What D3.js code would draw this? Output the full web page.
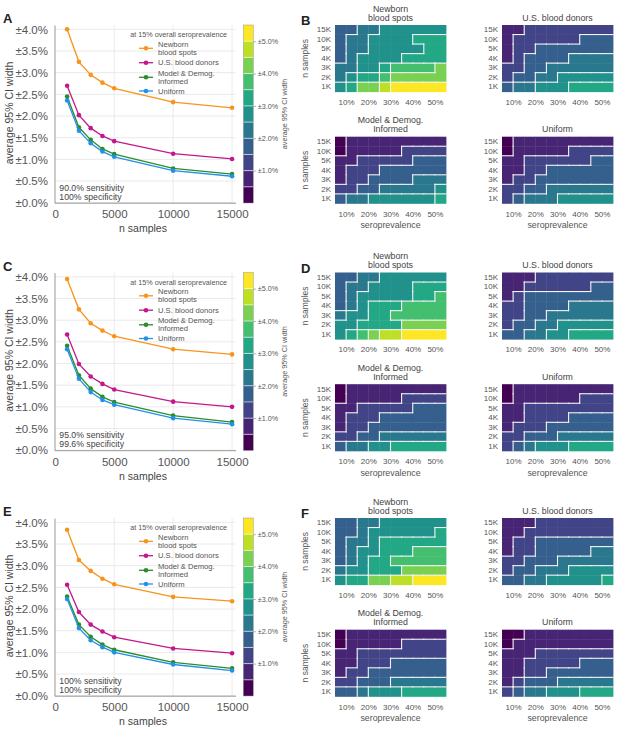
<!DOCTYPE html>
<html>
<head>
<meta charset="utf-8">
<script src="https://cdn.jsdelivr.net/npm/d3@7/dist/d3.min.js"></script>
<style>
  body { margin: 0; background: #fff; }
  svg { font-family: "Liberation Sans", Arial, sans-serif; }
</style>
</head>
<body>
<div id="chart"></div>
<script>
// x values of the line charts
var nSamples = [1000, 2000, 3000, 4000, 5000, 10000, 15000];

// average 95% CI width (%) at 15% overall seroprevalence
var ciA_newborn = [4.00, 3.25, 2.95, 2.77, 2.64, 2.32, 2.19];
var ciA_donors  = [2.70, 2.02, 1.72, 1.54, 1.42, 1.13, 1.01];
var ciA_model   = [2.45, 1.74, 1.45, 1.24, 1.12, 0.79, 0.66];
var ciA_uniform = [2.36, 1.66, 1.37, 1.18, 1.06, 0.74, 0.61];

var ciC_newborn = [3.95, 3.25, 2.93, 2.76, 2.63, 2.33, 2.21];
var ciC_donors  = [2.67, 1.99, 1.70, 1.53, 1.40, 1.12, 1.00];
var ciC_model   = [2.41, 1.73, 1.42, 1.23, 1.11, 0.80, 0.65];
var ciC_uniform = [2.33, 1.65, 1.34, 1.16, 1.05, 0.74, 0.60];

var ciE_newborn = [3.83, 3.13, 2.88, 2.70, 2.57, 2.28, 2.18];
var ciE_donors  = [2.56, 1.93, 1.64, 1.48, 1.35, 1.09, 0.98];
var ciE_model   = [2.29, 1.64, 1.36, 1.18, 1.06, 0.77, 0.63];
var ciE_uniform = [2.23, 1.56, 1.28, 1.12, 1.00, 0.72, 0.58];

var seriesNames = [["Newborn", "blood spots"], ["U.S. blood donors"], ["Model & Demog.", "Informed"], ["Uniform"]];
var seriesColors = ["#f7941d", "#c2188b", "#2a8d2a", "#2191ea"];
var yTicks = [0, 0.5, 1, 1.5, 2, 2.5, 3, 3.5, 4];
var xTicks = [0, 5000, 10000, 15000];
var cbTicks = [1, 2, 3, 4, 5];
var cbBreaks = [0.5, 1, 1.5, 2, 2.5, 3, 3.5, 4, 4.5, 5];

// heatmaps: rows 15K..1K, columns = seroprevalence bins starting at these %
var seroBins = [5, 10, 15, 20, 25, 30, 35, 40, 45, 50];
var rowLabels = ["15K", "10K", "5K", "4K", "3K", "2K", "1K"];
var seroTicks = [10, 20, 30, 40, 50];

var heatB_newborn = [
  [1.8,1.8,2.3,2.3,2.8,2.8,2.8,2.8,2.8,2.8],
  [1.8,2.3,2.3,2.8,2.8,2.8,2.8,3.3,3.3,3.3],
  [1.8,2.3,2.3,2.8,2.8,2.8,2.8,2.8,3.3,3.3],
  [1.8,2.3,2.8,2.8,2.8,2.8,3.3,3.3,3.3,3.3],
  [2.3,2.3,2.8,2.8,3.3,3.8,3.8,3.8,3.8,4.3],
  [2.3,2.8,3.3,3.3,3.8,4.3,4.3,4.3,4.3,4.3],
  [2.8,3.3,4.3,4.3,4.8,5.3,5.3,5.3,5.3,5.3]];
var heatB_donors = [
  [0.8,0.8,1.3,1.3,1.3,1.3,1.3,1.3,1.3,1.3],
  [0.8,1.3,1.3,1.3,1.3,1.3,1.3,1.8,1.8,1.8],
  [0.8,1.3,1.3,1.8,1.8,1.8,1.8,1.8,1.8,1.8],
  [0.8,1.3,1.8,1.8,1.8,1.8,2.3,2.3,2.3,2.3],
  [1.3,1.3,1.8,1.8,2.3,2.3,2.3,2.3,2.3,2.3],
  [1.3,1.8,1.8,2.3,2.3,2.8,2.8,2.8,2.8,2.8],
  [1.8,2.3,2.3,2.8,2.8,2.8,3.3,3.3,3.3,3.3]];
var heatB_model = [
  [0.3,0.8,0.8,0.8,0.8,0.8,0.8,0.8,0.8,0.8],
  [0.3,0.8,0.8,0.8,0.8,0.8,1.3,1.3,1.3,1.3],
  [0.8,0.8,1.3,1.3,1.3,1.3,1.3,1.8,1.8,1.8],
  [0.8,1.3,1.3,1.3,1.8,1.8,1.8,1.8,1.8,1.8],
  [0.8,1.3,1.3,1.8,1.8,1.8,1.8,2.3,2.3,2.3],
  [1.3,1.3,1.8,1.8,2.3,2.3,2.3,2.3,2.3,2.8],
  [1.8,2.3,2.3,2.8,2.8,2.8,2.8,2.8,2.8,3.3]];
var heatB_uniform = [
  [0.3,0.8,0.8,0.8,0.8,0.8,0.8,0.8,0.8,0.8],
  [0.3,0.8,0.8,0.8,0.8,0.8,1.3,1.3,1.3,1.3],
  [0.8,0.8,1.3,1.3,1.3,1.3,1.3,1.3,1.8,1.8],
  [0.8,0.8,1.3,1.3,1.8,1.8,1.8,1.8,1.8,1.8],
  [0.8,1.3,1.3,1.8,1.8,1.8,1.8,1.8,1.8,1.8],
  [1.3,1.3,1.8,1.8,2.3,2.3,2.3,2.3,2.3,2.3],
  [1.3,1.8,2.3,2.3,2.3,2.8,2.8,2.8,2.8,2.8]];

var heatD_newborn = [
  [1.8,1.8,2.3,2.3,2.8,2.8,2.8,2.8,2.8,2.8],
  [1.8,2.3,2.3,2.8,2.8,2.8,2.8,3.3,3.3,3.3],
  [1.8,2.3,2.8,2.8,2.8,2.8,2.8,3.3,3.3,3.8],
  [1.8,2.3,2.8,3.3,3.3,3.3,3.8,3.8,3.8,3.8],
  [2.3,2.8,2.8,3.3,3.3,3.8,3.8,3.8,3.8,3.8],
  [2.8,2.8,3.3,3.3,3.3,3.3,4.3,4.3,4.3,4.3],
  [2.8,3.3,3.8,4.3,4.8,4.8,5.3,5.3,5.3,5.3]];
var heatD_donors = [
  [0.8,0.8,0.8,1.3,1.3,1.3,1.3,1.3,1.3,1.3],
  [0.8,0.8,1.3,1.3,1.3,1.3,1.3,1.3,1.8,1.8],
  [0.8,1.3,1.8,1.8,1.8,1.8,1.8,1.8,1.8,1.8],
  [1.3,1.3,1.8,1.8,1.8,1.8,2.3,2.3,2.3,2.3],
  [1.3,1.3,1.8,1.8,2.3,2.3,2.3,2.3,2.3,2.3],
  [1.3,1.8,1.8,2.3,2.3,2.8,2.8,2.8,2.8,2.8],
  [1.8,1.8,2.3,2.3,2.8,2.8,3.3,3.3,3.3,3.3]];
var heatD_model = [
  [0.3,0.8,0.8,0.8,0.8,0.8,0.8,0.8,0.8,0.8],
  [0.3,0.8,0.8,0.8,0.8,0.8,1.3,1.3,1.3,1.3],
  [0.8,0.8,1.3,1.3,1.3,1.3,1.3,1.8,1.8,1.8],
  [0.8,1.3,1.3,1.3,1.8,1.8,1.8,1.8,1.8,1.8],
  [0.8,1.3,1.3,1.8,1.8,1.8,1.8,1.8,1.8,1.8],
  [1.3,1.3,1.8,1.8,2.3,2.3,2.3,2.3,2.3,2.3],
  [1.8,2.3,2.3,2.8,2.8,3.3,3.3,3.3,3.3,3.3]];
var heatD_uniform = [
  [0.3,0.8,0.8,0.8,0.8,0.8,0.8,0.8,0.8,0.8],
  [0.3,0.8,0.8,0.8,0.8,0.8,0.8,1.3,1.3,1.3],
  [0.8,0.8,1.3,1.3,1.3,1.3,1.3,1.3,1.3,1.3],
  [0.8,0.8,1.3,1.3,1.3,1.3,1.8,1.8,1.8,1.8],
  [0.8,1.3,1.3,1.3,1.8,1.8,1.8,1.8,1.8,1.8],
  [1.3,1.3,1.8,1.8,1.8,2.3,2.3,2.3,2.3,2.3],
  [1.3,1.8,2.3,2.8,2.8,2.8,3.3,3.3,3.3,3.3]];

var heatF_newborn = [
  [1.8,1.8,2.3,2.3,2.8,2.8,2.8,2.8,2.8,2.8],
  [1.8,1.8,2.3,2.8,2.8,2.8,2.8,2.8,2.8,3.3],
  [1.8,2.3,2.3,2.8,3.3,3.3,3.3,3.3,3.3,3.3],
  [1.8,2.3,2.8,2.8,3.3,3.3,3.3,3.8,3.8,3.8],
  [1.8,2.3,2.8,3.3,3.3,3.8,3.8,3.8,3.8,3.8],
  [2.3,2.8,2.8,3.3,3.3,3.3,4.3,4.3,4.3,4.3],
  [2.8,3.3,3.3,4.3,4.3,4.8,4.8,5.3,5.3,5.3]];
var heatF_donors = [
  [0.8,0.8,0.8,1.3,1.3,1.3,1.3,1.3,1.3,1.3],
  [0.8,0.8,1.3,1.3,1.3,1.3,1.3,1.3,1.3,1.3],
  [0.8,1.3,1.3,1.8,1.8,1.8,1.8,1.8,1.8,1.8],
  [0.8,1.3,1.3,1.8,1.8,1.8,1.8,1.8,2.3,2.3],
  [1.3,1.3,1.8,1.8,1.8,2.3,2.3,2.3,2.3,2.3],
  [1.3,1.8,1.8,2.3,2.3,2.3,2.8,2.8,2.8,2.8],
  [1.8,1.8,2.3,2.3,2.8,2.8,2.8,2.8,2.8,3.3]];
var heatF_model = [
  [0.3,0.8,0.8,0.8,0.8,0.8,0.8,0.8,0.8,0.8],
  [0.3,0.8,0.8,0.8,0.8,0.8,1.3,1.3,1.3,1.3],
  [0.8,0.8,1.3,1.3,1.3,1.3,1.3,1.3,1.3,1.3],
  [0.8,0.8,1.3,1.3,1.3,1.8,1.8,1.8,1.8,1.8],
  [0.8,1.3,1.3,1.8,1.8,1.8,1.8,1.8,1.8,1.8],
  [1.3,1.3,1.8,1.8,1.8,2.3,2.3,2.3,2.3,2.3],
  [1.8,1.8,2.3,2.8,2.8,2.8,3.3,3.3,3.3,3.3]];
var heatF_uniform = [
  [0.3,0.3,0.8,0.8,0.8,0.8,0.8,0.8,0.8,0.8],
  [0.3,0.8,0.8,0.8,0.8,0.8,0.8,0.8,0.8,0.8],
  [0.8,0.8,0.8,1.3,1.3,1.3,1.3,1.3,1.3,1.3],
  [0.8,0.8,1.3,1.3,1.3,1.3,1.3,1.8,1.8,1.8],
  [0.8,0.8,1.3,1.3,1.8,1.8,1.8,1.8,1.8,1.8],
  [0.8,1.3,1.8,1.8,1.8,2.3,2.3,2.3,2.3,2.3],
  [1.3,1.8,2.3,2.3,2.8,2.8,2.8,3.3,3.3,3.3]];

var panelLetters = [["A", "B"], ["C", "D"], ["E", "F"]];
var sensTexts = [["90.0% sensitivity", "100% specificity"], ["95.0% sensitivity", "99.6% specificity"], ["100% sensitivity", "100% specificity"]];

var width = 617, height = 731;
var panelY = [0, 247.5, 493];

var svg = d3.select("#chart").append("svg")
    .attr("width", width)
    .attr("height", height);

var bandColors = d3.range(11).map(i => d3.interpolateViridis(i / 10));
var color = d3.scaleThreshold().domain(cbBreaks).range(bandColors);
var fmtPct = d => "\u00b1" + d3.format(".1f")(d) + "%";

function drawLineChart(g, series, sens) {
    var x = d3.scaleLinear().domain([-70, 15300]).range([54.5, 235.6]);
    var y = d3.scaleLinear().domain([0, 4.1]).range([202.7, 25]);

    // grid
    g.append("g").selectAll("line").data(yTicks).enter().append("line")
        .attr("x1", x.range()[0]).attr("x2", x.range()[1])
        .attr("y1", d => y(d)).attr("y2", d => y(d))
        .attr("stroke", "#e4e4e4").attr("stroke-width", 0.8);
    g.append("g").selectAll("line").data(xTicks.slice(1)).enter().append("line")
        .attr("x1", d => x(d)).attr("x2", d => x(d))
        .attr("y1", y.range()[0]).attr("y2", y.range()[1])
        .attr("stroke", "#e4e4e4").attr("stroke-width", 0.8);

    var ya = g.append("g").attr("transform", "translate(54.5,0)")
        .call(d3.axisLeft(y).tickValues(yTicks).tickFormat(fmtPct).tickSize(0).tickPadding(6.5));
    ya.select(".domain").attr("stroke", "#999");
    ya.selectAll("text").attr("font-size", 11.5).attr("fill", "#555").attr("font-family", null);

    var xa = g.append("g").attr("transform", "translate(0," + y(0) + ")")
        .call(d3.axisBottom(x).tickValues(xTicks).tickSize(0).tickPadding(7.5).tickFormat(d3.format("d")));
    xa.select(".domain").attr("stroke", "#999");
    xa.selectAll("text").attr("font-size", 11.5).attr("fill", "#555").attr("font-family", null);

    g.append("text").attr("x", 143).attr("y", 232).attr("text-anchor", "middle")
        .attr("font-size", 10.5).attr("fill", "#444").text("n samples");
    g.append("text").attr("transform", "translate(13,113) rotate(-90)").attr("text-anchor", "middle")
        .attr("font-size", 10.5).attr("fill", "#444").text("average 95% CI width");

    var line = d3.line().x((d, i) => x(nSamples[i])).y(d => y(d));
    series.forEach(function (s, k) {
        g.append("path").attr("d", line(s)).attr("fill", "none")
            .attr("stroke", seriesColors[k]).attr("stroke-width", 1.3);
        g.append("g").selectAll("circle").data(s).enter().append("circle")
            .attr("cx", (d, i) => x(nSamples[i])).attr("cy", d => y(d)).attr("r", 2.3)
            .attr("fill", seriesColors[k]);
    });

    // legend
    g.append("text").attr("x", 227).attr("y", 37).attr("text-anchor", "end")
        .attr("font-size", 7.2).attr("fill", "#555").text("at 15% overall seroprevalence");
    var legY = [48.3, 62.7, 77.3, 91];
    seriesNames.forEach(function (name, k) {
        g.append("line").attr("x1", 139).attr("x2", 153).attr("y1", legY[k]).attr("y2", legY[k])
            .attr("stroke", seriesColors[k]).attr("stroke-width", 1.3);
        g.append("circle").attr("cx", 146).attr("cy", legY[k]).attr("r", 2.3).attr("fill", seriesColors[k]);
        name.forEach(function (t, j) {
            g.append("text").attr("x", 158)
                .attr("y", legY[k] + (j - (name.length - 1) / 2) * 8 + 2.6)
                .attr("font-size", 7.6).attr("fill", "#555").text(t);
        });
    });

    sens.forEach(function (t, j) {
        g.append("text").attr("x", 59.3).attr("y", 190.8 + j * 9)
            .attr("font-size", 8.7).attr("fill", "#444").text(t);
    });

    // colorbar
    var cb = d3.scaleLinear().domain([0, 5.5]).range([203, 25]);
    var cbx = 243.3, cbw = 10;
    var bands = [0].concat(cbBreaks);
    g.append("g").selectAll("rect").data(bands).enter().append("rect")
        .attr("x", cbx).attr("width", cbw)
        .attr("y", d => cb(d + 0.5)).attr("height", d => cb(d) - cb(d + 0.5))
        .attr("fill", d => color(d + 0.25));
    g.append("g").selectAll("line").data(cbBreaks).enter().append("line")
        .attr("x1", cbx).attr("x2", cbx + cbw)
        .attr("y1", d => cb(d)).attr("y2", d => cb(d))
        .attr("stroke", "#fff").attr("stroke-opacity", 0.75).attr("stroke-width", 0.8);
    g.append("rect").attr("x", cbx).attr("y", cb(5.5)).attr("width", cbw).attr("height", cb(0) - cb(5.5))
        .attr("fill", "none").attr("stroke", "#999").attr("stroke-width", 0.5);
    var ca = g.append("g").attr("transform", "translate(" + (cbx + cbw) + ",0)")
        .call(d3.axisRight(cb).tickValues(cbTicks).tickFormat(fmtPct).tickSize(2.5).tickPadding(2));
    ca.select(".domain").remove();
    ca.selectAll("line").attr("stroke", "#aaa");
    ca.selectAll("text").attr("font-size", 7.2).attr("fill", "#555").attr("font-family", null);
    g.append("text").attr("transform", "translate(287,114) rotate(-90)").attr("text-anchor", "middle")
        .attr("font-size", 7.2).attr("fill", "#555").text("average 95% CI width");
}

function drawHeatmap(g, x0, y0, grid, title, showY, showX) {
    var w = 111, h = 66.7;
    var xs = d3.scaleLinear().domain([5, 55]).range([x0, x0 + w]);
    var ys = d3.scaleBand().domain(rowLabels).range([y0, y0 + h]);
    var cells = [];
    grid.forEach((row, r) => row.forEach((v, c) => cells.push({ r: r, c: c, v: v })));

    g.append("g").selectAll("rect").data(cells).enter().append("rect")
        .attr("x", d => xs(seroBins[d.c]))
        .attr("y", d => ys(rowLabels[d.r]))
        .attr("width", d => xs(seroBins[d.c] + 5) - xs(seroBins[d.c]) + 0.4)
        .attr("height", ys.bandwidth() + 0.4)
        .attr("fill", d => color(d.v));

    // white borders between different levels
    var lvl = v => cbBreaks.filter(b => v >= b).length;
    var segs = [];
    cells.forEach(function (d) {
        if (d.c < 9 && lvl(grid[d.r][d.c + 1]) !== lvl(d.v)) {
            var xx = xs(seroBins[d.c] + 5);
            segs.push([xx, ys(rowLabels[d.r]), xx, ys(rowLabels[d.r]) + ys.bandwidth()]);
        }
        if (d.r < 6 && lvl(grid[d.r + 1][d.c]) !== lvl(d.v)) {
            var yy = ys(rowLabels[d.r]) + ys.bandwidth();
            segs.push([xs(seroBins[d.c]), yy, xs(seroBins[d.c] + 5), yy]);
        }
    });
    g.append("g").selectAll("line").data(segs).enter().append("line")
        .attr("x1", d => d[0]).attr("y1", d => d[1]).attr("x2", d => d[2]).attr("y2", d => d[3])
        .attr("stroke", "#f4f4f4").attr("stroke-width", 1.1).attr("stroke-linecap", "square");

    var ya = g.append("g").attr("transform", "translate(" + x0 + ",0)")
        .call(d3.axisLeft(ys).tickSize(0).tickPadding(4));
    ya.select(".domain").remove();
    ya.selectAll("text").attr("font-size", 8).attr("fill", "#555").attr("font-family", null);

    var xa = g.append("g").attr("transform", "translate(0," + (y0 + h) + ")")
        .call(d3.axisBottom(xs).tickValues(seroTicks).tickFormat(d => d + "%").tickSize(0).tickPadding(7.5));
    xa.select(".domain").remove();
    xa.selectAll("text").attr("font-size", 8).attr("fill", "#555").attr("font-family", null);

    title.forEach(function (t, j) {
        g.append("text").attr("x", x0 + w / 2)
            .attr("y", y0 - 4.3 - (title.length - 1 - j) * 9)
            .attr("text-anchor", "middle").attr("font-size", 8.8).attr("fill", "#444").text(t);
    });
    if (showY) {
        g.append("text").attr("transform", "translate(308," + (y0 + h / 2) + ") rotate(-90)")
            .attr("text-anchor", "middle").attr("font-size", 8.5).attr("fill", "#555").text("n samples");
    }
    if (showX) {
        g.append("text").attr("x", x0 + w / 2).attr("y", y0 + h + 25)
            .attr("text-anchor", "middle").attr("font-size", 8.8).attr("fill", "#555").text("seroprevalence");
    }
}

var lineSets = [
    [ciA_newborn, ciA_donors, ciA_model, ciA_uniform],
    [ciC_newborn, ciC_donors, ciC_model, ciC_uniform],
    [ciE_newborn, ciE_donors, ciE_model, ciE_uniform]];
var heatSets = [
    [heatB_newborn, heatB_donors, heatB_model, heatB_uniform],
    [heatD_newborn, heatD_donors, heatD_model, heatD_uniform],
    [heatF_newborn, heatF_donors, heatF_model, heatF_uniform]];

panelY.forEach(function (dy, p) {
    var g = svg.append("g").attr("transform", "translate(0," + dy + ")");
    drawLineChart(g, lineSets[p], sensTexts[p]);
    var hs = heatSets[p];
    drawHeatmap(g, 335, 25, hs[0], seriesNames[0], true, false);
    drawHeatmap(g, 502, 25, hs[1], seriesNames[1], false, false);
    drawHeatmap(g, 335, 136.7, hs[2], seriesNames[2], true, true);
    drawHeatmap(g, 502, 136.7, hs[3], seriesNames[3], false, true);

    g.append("text").attr("x", 3).attr("y", 23).attr("font-size", 13).attr("font-weight", "bold")
        .attr("fill", "#222").text(panelLetters[p][0]);
    g.append("text").attr("x", 301).attr("y", 25).attr("font-size", 13).attr("font-weight", "bold")
        .attr("fill", "#222").text(panelLetters[p][1]);
});
</script>
</body>
</html>
